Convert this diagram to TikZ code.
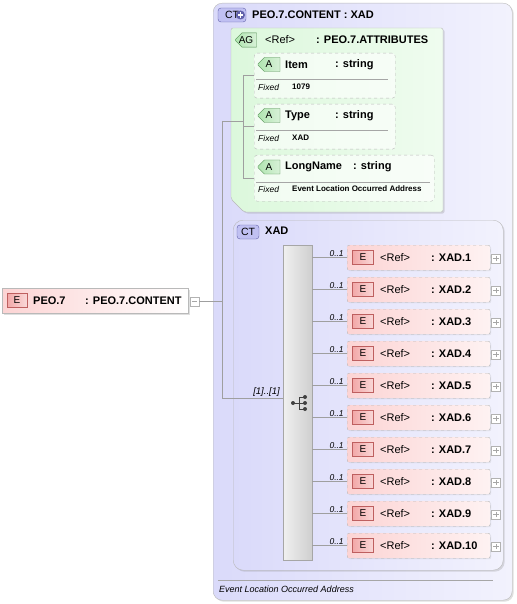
\documentclass[tikz,border=0pt]{standalone}
\usepackage{fontspec}
\setmainfont{Liberation Sans}
\usetikzlibrary{positioning,shadows,shapes.misc}
\definecolor{ctfill}{RGB}{218,218,250}
\definecolor{ctedge}{RGB}{96,96,170}
\definecolor{ctbadgefill}{RGB}{192,192,242}
\definecolor{agfill}{RGB}{220,248,220}
\definecolor{agedge}{RGB}{80,140,80}
\definecolor{abadgefill}{RGB}{176,228,176}
\definecolor{elfill}{RGB}{252,212,212}
\definecolor{eledge}{RGB}{190,95,95}
\definecolor{ebadgefill}{RGB}{242,168,168}
\tikzset{ctbox/.style={draw=gray!55,rounded corners=9pt,left color=ctfill,right color=ctfill!35,anchor=north west,inner sep=0pt,drop shadow={opacity=0.25,shadow xshift=1.5pt,shadow yshift=-1.5pt}}}
\tikzset{agbox/.style={draw=gray!55,rounded corners=2pt,left color=agfill,right color=agfill!45,drop shadow={opacity=0.25,shadow xshift=1.5pt,shadow yshift=-1.5pt}}}
\tikzset{attbox/.style={draw=gray!55,dashed,rounded corners=3pt,fill=white,fill opacity=0.6,text opacity=1,anchor=north west,inner sep=0pt}}
\tikzset{elbox/.style={draw=gray!55,dashed,rounded corners=2pt,left color=elfill,right color=elfill!30,anchor=north west,inner sep=0pt,drop shadow={opacity=0.15,shadow xshift=1pt,shadow yshift=-1pt}}}
\tikzset{topbox/.style={draw=gray!55,left color=elfill,right color=white,anchor=north west,inner sep=0pt,drop shadow={opacity=0.25,shadow xshift=1.5pt,shadow yshift=-1.5pt}}}
\tikzset{ebadge/.style={draw=eledge,left color=ebadgefill,right color=ebadgefill!45,minimum width=21pt,minimum height=14pt,inner sep=0pt,font=\fontsize{10}{11}\selectfont}}
\tikzset{ctbadge/.style={draw=ctedge,fill=ctbadgefill,rounded corners=3pt,minimum height=14pt,inner sep=0pt,font=\fontsize{10.5}{11}\selectfont}}
\tikzset{abadge/.style={chamfered rectangle,chamfered rectangle corners={north west,south west},chamfered rectangle xsep=3pt,draw=agedge,left color=abadgefill,right color=abadgefill!50,minimum height=14pt,inner sep=0pt,font=\fontsize{10}{11}\selectfont}}
\tikzset{expbox/.style={draw=gray!60,fill=white,minimum size=9pt,inner sep=0pt}}
\tikzset{txt/.style={inner sep=0pt,anchor=west,font=\fontsize{11}{13}\selectfont}}
\tikzset{bold/.style={txt,font=\fontsize{11}{13}\selectfont\bfseries}}
\tikzset{fixed/.style={inner sep=0pt,anchor=west,font=\fontsize{8.5}{10}\selectfont\itshape}}
\tikzset{fixval/.style={inner sep=0pt,anchor=west,font=\fontsize{8}{9}\selectfont\bfseries}}
\tikzset{conn/.style={draw=gray!75,line width=0.6pt}}
\tikzset{card/.style={inner sep=1pt,font=\fontsize{8.5}{10}\selectfont\itshape}}

\begin{document}
\begin{tikzpicture}[x=1pt,y=-1pt]
    \useasboundingbox (0,0) rectangle (516,604);

    % complex type PEO.7.CONTENT
    \node[ctbox,minimum width=299pt,minimum height=597pt] (ctcontent) at (213,3) {};
    \node[ctbadge,minimum width=28pt] (ctbadge1) at (232,15) {CT\hspace{10pt}};
    \node[circle,fill=ctedge,inner sep=0pt,minimum size=9pt] (ctplus) at (240.5,15) {};
    \draw[white,line width=1.4pt] ([xshift=2pt]ctplus.west) -- ([xshift=-2pt]ctplus.east) ([yshift=2pt]ctplus.south) -- ([yshift=-2pt]ctplus.north);
    \node[bold] (cttitle) at (252,14.5) {PEO.7.CONTENT : XAD};

    % attribute group
    \draw[agbox] (231,28) -- (443,28) -- (443,212) -- (244,212) -- (231,199) -- cycle;
    \node[abadge,minimum width=21pt] (agbadge) at (246,40) {AG};
    \node[txt] (agref) at (265,40) {<Ref>};
    \node[bold] (agname) at (316,40) {: PEO.7.ATTRIBUTES};

    \node[attbox,minimum width=141pt,minimum height=45pt] (attitem) at (254,53) {};
    \node[abadge,minimum width=22pt] (aitem) at (269,64.5) {A};
    \node[bold] (itemname) at (285,64.5) {Item};
    \node[bold] (itemtype) at (335,64.5) {: string};
    \draw[gray!70] (256,79) -- (388,79);
    \node[fixed] (itemfixed) at (258,87) {Fixed};
    \node[fixval] (itemval) at (292,87) {1079};

    \node[attbox,minimum width=141pt,minimum height=45pt] (atttype) at (254,104) {};
    \node[abadge,minimum width=22pt] (atype) at (269,115.5) {A};
    \node[bold] (typename) at (285,115.5) {Type};
    \node[bold] (typetype) at (335,115.5) {: string};
    \draw[gray!70] (256,130) -- (388,130);
    \node[fixed] (typefixed) at (258,138) {Fixed};
    \node[fixval] (typeval) at (292,138) {XAD};

    \node[attbox,minimum width=180pt,minimum height=46pt] (attlong) at (254,155) {};
    \node[abadge,minimum width=22pt] (along) at (269,167) {A};
    \node[bold] (longname) at (285,167) {LongName};
    \node[bold] (longtype) at (353,167) {: string};
    \draw[gray!70] (256,182) -- (430,182);
    \node[fixed] (longfixed) at (258,189) {Fixed};
    \node[fixval] (longval) at (292,189) {Event Location Occurred Address};

    % complex type XAD
    \node[ctbox,rounded corners=10pt,minimum width=270pt,minimum height=350pt] (ctxad) at (233,220) {};
    \node[ctbadge,minimum width=22pt] (ctbadge2) at (248,232) {CT};
    \node[bold] (xadtitle) at (265,231) {XAD};
    \node[draw=gray!70,left color=gray!12,right color=gray!38,anchor=north west,minimum width=29pt,minimum height=315pt,inner sep=0pt] (seq) at (283,245) {};
    \fill[black!75] (293,403) circle (2pt) (305,397) circle (2pt) (305,403) circle (2pt) (305,409) circle (2pt);
    \draw[black!75,line width=0.8pt] (293,403) -- (305,403) (299,397) -- (299,409) (299,397) -- (305,397) (299,409) -- (305,409);

    \foreach \i in {1,...,10}{
        \pgfmathsetmacro\cy{257.5+32*(\i-1)}
        \node[elbox,minimum width=143pt,minimum height=25pt] (xad\i) at (347,\cy-12.5) {};
        \node[ebadge] (eb\i) at (363,\cy) {E};
        \node[txt] (ref\i) at (380,\cy) {<Ref>};
        \node[bold] (xadname\i) at (431,\cy) {: XAD.\i};
        \node[expbox] (xadplus\i) at (496,\cy+1) {};
        \draw[gray!70] ([xshift=2pt]xadplus\i.west) -- ([xshift=-2pt]xadplus\i.east) ([yshift=2pt]xadplus\i.south) -- ([yshift=-2pt]xadplus\i.north);
        \draw[conn] (seq.east |- xad\i.west) -- (xad\i.west) node[card,at end,anchor=south east,xshift=-2pt] {0..1};
    }

    % documentation
    \draw[gray!70] (218,580) -- (493,580);
    \node[txt,font=\fontsize{9}{11}\selectfont\itshape] (docnote) at (219,589) {Event Location Occurred Address};

    % element PEO.7
    \node[topbox,minimum width=186pt,minimum height=25pt] (peo) at (2,288) {};
    \node[ebadge,minimum width=20pt] (peobadge) at (17,300.5) {E};
    \node[bold] (peoname) at (33,300.5) {PEO.7};
    \node[bold] (peotype) at (85,300.5) {: PEO.7.CONTENT};
    \node[expbox] (peominus) at (194.5,301.5) {};
    \draw[gray!70] ([xshift=2pt]peominus.west) -- ([xshift=-2pt]peominus.east);

    % connectors
    \coordinate (trunk) at (222,301.5);
    \coordinate (agfork) at (243,121);
    \coordinate (seqin) at (283,398);
    \draw[conn] (peominus.east) -- (trunk);
    \draw[conn] (trunk |- agfork) -- (trunk |- seqin) -- (seqin) node[card,at end,anchor=south east,xshift=-2pt,font=\fontsize{9.5}{11}\selectfont\itshape] {[1]..[1]};
    \draw[conn] (trunk |- agfork) -- (agfork);
    \draw[conn] (agfork |- attitem.west) -- (agfork |- attlong.west);
    \draw[conn] (agfork |- attitem.west) -- (attitem.west);
    \draw[conn] (agfork |- atttype.west) -- (atttype.west);
    \draw[conn] (agfork |- attlong.west) -- (attlong.west);

\end{tikzpicture}
\end{document}
